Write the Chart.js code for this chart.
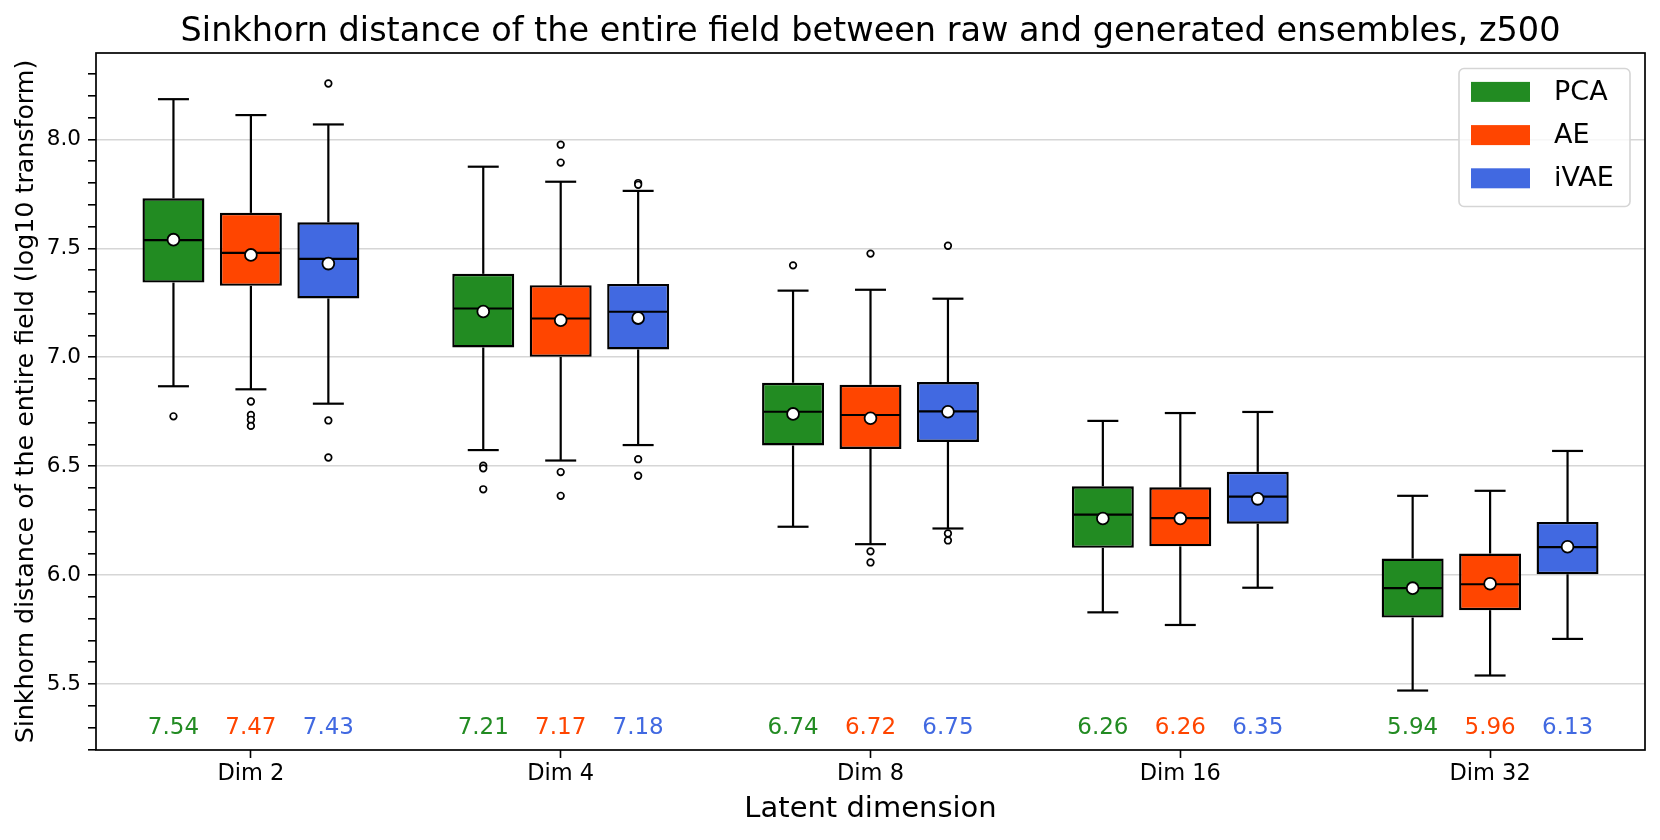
<!DOCTYPE html>
<html>
<head>
<meta charset="utf-8">
<script src="https://cdn.jsdelivr.net/npm/chart.js@4/dist/chart.umd.min.js"></script>
<style>
  html, body { margin: 0; padding: 0; background: #fff; }
  #wrap { width: 1660px; height: 840px; }
</style>
</head>
<body>
<div id="wrap"><canvas id="c" width="1660" height="840"></canvas></div>
<script>
// ---------------- data ----------------
const categories = ['Dim 2', 'Dim 4', 'Dim 8', 'Dim 16', 'Dim 32'];
const seriesNames = ['PCA', 'AE', 'iVAE'];
const seriesColors = ['#228B22', '#FF4500', '#4169E1'];
const chartTitle = 'Sinkhorn distance of the entire field between raw and generated ensembles, z500';

const pcaQ1   = [7.343, 7.045, 6.595, 6.125, 5.805];
const pcaMed  = [7.538, 7.224, 6.750, 6.278, 5.940];
const pcaQ3   = [7.730, 7.383, 6.883, 6.408, 6.076];
const pcaLo   = [6.867, 6.574, 6.222, 5.829, 5.470];
const pcaHi   = [8.185, 7.875, 7.306, 6.708, 6.364];
const pcaMean = [7.54, 7.21, 6.74, 6.26, 5.94];
const pcaOut  = [[6.729], [6.502, 6.490, 6.394], [7.422], [], []];

const aeQ1   = [7.328, 7.002, 6.579, 6.132, 5.839];
const aeMed  = [7.479, 7.178, 6.735, 6.262, 5.958];
const aeQ3   = [7.663, 7.331, 6.874, 6.403, 6.099];
const aeLo   = [6.853, 6.526, 6.142, 5.771, 5.539];
const aeHi   = [8.112, 7.806, 7.310, 6.744, 6.387];
const aeMean = [7.47, 7.17, 6.72, 6.26, 5.96];
const aeOut  = [[6.797, 6.735, 6.713, 6.685], [7.976, 7.894, 6.473, 6.364], [7.476, 6.109, 6.058], [], []];

const ivaeQ1   = [7.270, 7.036, 6.611, 6.236, 6.004];
const ivaeMed  = [7.452, 7.209, 6.752, 6.360, 6.128];
const ivaeQ3   = [7.620, 7.337, 6.886, 6.474, 6.244];
const ivaeLo   = [6.787, 6.597, 6.214, 5.942, 5.707];
const ivaeHi   = [8.069, 7.764, 7.269, 6.749, 6.570];
const ivaeMean = [7.43, 7.18, 6.75, 6.35, 6.13];
const ivaeOut  = [[8.257, 6.710, 6.540], [7.800, 7.792, 6.532, 6.456], [7.512, 6.191, 6.159], [], []];

const yMajorTicks = [5.5, 6.0, 6.5, 7.0, 7.5, 8.0];
const yMinorTicks = [5.2, 5.3, 5.4, 5.6, 5.7, 5.8, 5.9, 6.1, 6.2, 6.3, 6.4, 6.6, 6.7, 6.8, 6.9,
                     7.1, 7.2, 7.3, 7.4, 7.6, 7.7, 7.8, 7.9, 8.1, 8.2, 8.3];
const meanLabelLevel = 5.3;

const stats = [
  {q1: pcaQ1, med: pcaMed, q3: pcaQ3, lo: pcaLo, hi: pcaHi, mean: pcaMean, out: pcaOut},
  {q1: aeQ1, med: aeMed, q3: aeQ3, lo: aeLo, hi: aeHi, mean: aeMean, out: aeOut},
  {q1: ivaeQ1, med: ivaeMed, q3: ivaeQ3, lo: ivaeLo, hi: ivaeHi, mean: ivaeMean, out: ivaeOut}
];

// ---------------- chart ----------------
const FONT = "'DejaVu Sans', sans-serif";
Chart.defaults.font.family = FONT;
Chart.defaults.color = '#000';

const datasets = seriesNames.map((name, k) => ({
  label: name,
  data: stats[k].q1.map((v, i) => [v, stats[k].q3[i]]),
  backgroundColor: seriesColors[k],
  borderColor: '#000',
  borderWidth: 2.4,
  borderSkipped: false,
  barPercentage: 0.8,
  categoryPercentage: 0.75
}));

function line(ctx, x1, y1, x2, y2) {
  ctx.beginPath(); ctx.moveTo(x1, y1); ctx.lineTo(x2, y2); ctx.stroke();
}

const boxExtras = {
  id: 'boxExtras',
  afterDatasetsDraw(chart) {
    const ctx = chart.ctx;
    const ys = chart.scales.y;
    ctx.save();
    chart.data.datasets.forEach((ds, di) => {
      const meta = chart.getDatasetMeta(di);
      const s = stats[di];
      meta.data.forEach((bar, i) => {
        const cx = bar.x, w = bar.width;
        const pQ1 = ys.getPixelForValue(s.q1[i]);
        const pQ3 = ys.getPixelForValue(s.q3[i]);
        const pLo = ys.getPixelForValue(s.lo[i]);
        const pHi = ys.getPixelForValue(s.hi[i]);
        const pMed = ys.getPixelForValue(s.med[i]);
        ctx.strokeStyle = '#000';
        ctx.lineWidth = 2.2;
        ctx.lineCap = 'butt';
        line(ctx, cx, pQ3, cx, pHi);
        line(ctx, cx, pQ1, cx, pLo);
        line(ctx, cx - w / 4, pHi, cx + w / 4, pHi);
        line(ctx, cx - w / 4, pLo, cx + w / 4, pLo);
        line(ctx, cx - w / 2 + 1, pMed, cx + w / 2 - 1, pMed);
        // outliers
        ctx.lineWidth = 1.7;
        s.out[i].forEach(v => {
          ctx.beginPath();
          ctx.arc(cx, ys.getPixelForValue(v), 3.3, 0, Math.PI * 2);
          ctx.fillStyle = '#fff'; ctx.fill(); ctx.stroke();
        });
        // mean marker
        ctx.beginPath();
        ctx.arc(cx, ys.getPixelForValue(s.mean[i]), 5.9, 0, Math.PI * 2);
        ctx.fillStyle = '#fff'; ctx.fill();
        ctx.lineWidth = 1.8; ctx.stroke();
        // mean label
        ctx.fillStyle = ds.backgroundColor;
        ctx.font = '23px ' + FONT;
        ctx.textAlign = 'center';
        ctx.textBaseline = 'middle';
        ctx.fillText(s.mean[i].toFixed(2), cx, ys.getPixelForValue(meanLabelLevel));
      });
    });
    ctx.restore();
  },
  afterDraw(chart) {
    const ctx = chart.ctx;
    const a = chart.chartArea;
    ctx.save();
    // title centred over the plot area
    ctx.fillStyle = '#000';
    ctx.font = '33.5px ' + FONT;
    ctx.textAlign = 'center';
    ctx.textBaseline = 'alphabetic';
    ctx.fillText(chartTitle, (a.left + a.right) / 2, 40.5);
    // frame
    ctx.strokeStyle = '#000';
    ctx.lineWidth = 1.7;
    ctx.strokeRect(a.left, a.top, a.right - a.left, a.bottom - a.top);
    // legend
    const bw = 171, bh = 138;
    const bx = a.right - 15 - bw, by = a.top + 15.5;
    ctx.beginPath();
    ctx.roundRect(bx, by, bw, bh, 5);
    ctx.fillStyle = 'rgba(255,255,255,0.8)';
    ctx.fill();
    ctx.strokeStyle = '#d5d5d5';
    ctx.lineWidth = 1.6;
    ctx.stroke();
    ctx.font = '27px ' + FONT;
    ctx.textAlign = 'left';
    ctx.textBaseline = 'middle';
    chart.data.datasets.forEach((ds, k) => {
      const cy = by + 23.4 + k * 43.2;
      ctx.fillStyle = ds.backgroundColor;
      ctx.fillRect(bx + 12, cy - 10, 59, 20);
      ctx.fillStyle = '#000';
      ctx.fillText(ds.label, bx + 95, cy + 1);
    });
    ctx.restore();
  }
};

new Chart(document.getElementById('c'), {
  type: 'bar',
  data: { labels: categories, datasets },
  options: {
    responsive: false,
    animation: false,
    layout: { padding: { left: 0, right: 15, top: 53, bottom: 0 } },
    plugins: {
      legend: { display: false },
      tooltip: { enabled: false },
      title: { display: false }
    },
    scales: {
      x: {
        type: 'category',
        offset: true,
        grid: { offset: false, drawOnChartArea: false, drawTicks: true, tickLength: 8, tickColor: '#000', tickWidth: 1.6 },
        border: { display: false },
        ticks: { font: { size: 22.5, family: FONT }, color: '#000', padding: 3 },
        title: { display: true, text: 'Latent dimension', font: { size: 29, family: FONT }, color: '#000', padding: { top: 0, bottom: 13 } },
        afterFit(s) { s.height = 90; }
      },
      y: {
        type: 'linear',
        min: 5.197,
        max: 8.397,
        afterBuildTicks(s) {
          s.ticks = yMajorTicks.concat(yMinorTicks).sort((p, q) => p - q).map(v => ({ value: v }));
        },
        grid: {
          color: (c) => (c.tick && yMajorTicks.some(m => Math.abs(m - c.tick.value) < 1e-6)) ? '#d6d6d6' : 'rgba(0,0,0,0)',
          lineWidth: 1.6,
          drawTicks: true,
          tickLength: 8,
          tickColor: '#000',
          tickWidth: 1.6
        },
        border: { display: false },
        ticks: {
          autoSkip: false,
          font: { size: 21.5, family: FONT },
          color: '#000',
          padding: 7,
          callback: (v) => yMajorTicks.some(m => Math.abs(m - v) < 1e-6) ? Number(v).toFixed(1) : ''
        },
        title: { display: true, text: 'Sinkhorn distance of the entire field (log10 transform)', font: { size: 25.3, family: FONT }, color: '#000', padding: { top: 11, bottom: 0 } },
        afterFit(s) { s.width = 96; }
      }
    }
  },
  plugins: [boxExtras]
});
</script>
</body>
</html>
